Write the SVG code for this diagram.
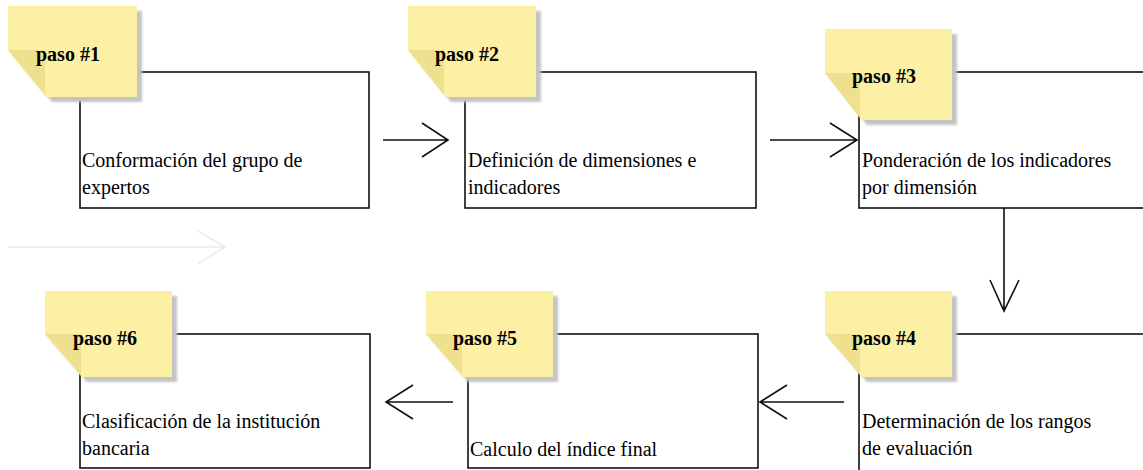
<svg xmlns="http://www.w3.org/2000/svg" width="1143" height="470" viewBox="0 0 1143 470">
<style>
.box{fill:#fff;stroke:#111;stroke-width:1.6}
.note{fill:#fcf0a4}
.fold{fill:#eee08e}
.shadow{fill:#c4c4c4;filter:url(#blur)}
.lbl{font-family:'Liberation Serif','Times New Roman',Tinos,'DejaVu Serif',serif;font-weight:bold;font-size:20px;fill:#000}
.txt{font-family:'Liberation Serif','Times New Roman',Tinos,'DejaVu Serif',serif;font-size:20px;fill:#000}
.con{fill:none;stroke:#111;stroke-width:1.6}
.faint{fill:none;stroke:#ececec;stroke-width:1.6}
</style>
<defs>
<filter id="blur" x="-10%" y="-10%" width="130%" height="130%"><feGaussianBlur stdDeviation="1.2"/></filter>
</defs>
<rect width="1143" height="470" fill="#fff"/>
<g id="connectors">
<path class="faint" d="M8 247H225M198 231L225 247L198 264"/>
<path class="con" d="M383 140H448M422 123L448 140L422 157"/>
<path class="con" d="M770 140H857M830 123L857 140L830 157"/>
<path class="con" d="M1004 208V311M990 280L1004 311L1019 280"/>
<path class="con" d="M844 402H760M787 385L760 402L787 419"/>
<path class="con" d="M453 402H386M413 385L386 402L413 419"/>
</g>
<g id="node1">
<rect class="box" x="80" y="72" width="289" height="136"/>
<path class="shadow" d="M11 53V9H140V100H50Z" transform="translate(2,2)"/>
<path class="note" d="M8 50V6H137V97H46Z"/>
<path class="fold" d="M8 50H45V95Z"/>
<text class="lbl" x="36" y="61">paso #1</text>
<text class="txt" x="82" y="167">Conformación del grupo de</text>
<text class="txt" x="82" y="194">expertos</text>
</g>
<g id="node2">
<rect class="box" x="465" y="72" width="291" height="136"/>
<path class="shadow" d="M411 53V9H539V100H449Z" transform="translate(2,2)"/>
<path class="note" d="M408 50V6H536V97H446Z"/>
<path class="fold" d="M408 50H444V95Z"/>
<text class="lbl" x="435" y="61">paso #2</text>
<text class="txt" x="468" y="167">Definición de dimensiones e</text>
<text class="txt" x="468" y="194">indicadores</text>
</g>
<g id="node3">
<rect class="box" x="859" y="72" width="300" height="136"/>
<path class="shadow" d="M828 76V32H955V123H865Z" transform="translate(2,2)"/>
<path class="note" d="M825 73V29H952V120H862Z"/>
<path class="fold" d="M825 73H860V118Z"/>
<text class="lbl" x="852" y="83">paso #3</text>
<text class="txt" x="862" y="167">Ponderación de los indicadores</text>
<text class="txt" x="862" y="194">por dimensión</text>
</g>
<g id="node4">
<rect class="box" x="859" y="334" width="300" height="145"/>
<path class="shadow" d="M828 337V294H955V380H865Z" transform="translate(2,2)"/>
<path class="note" d="M825 334V291H952V377H862Z"/>
<path class="fold" d="M825 334H860V375Z"/>
<text class="lbl" x="852" y="345">paso #4</text>
<text class="txt" x="862" y="428">Determinación de los rangos</text>
<text class="txt" x="862" y="455">de evaluación</text>
</g>
<g id="node5">
<rect class="box" x="468" y="334" width="290" height="134"/>
<path class="shadow" d="M429 337V294H556V380H466Z" transform="translate(2,2)"/>
<path class="note" d="M426 334V291H553V377H463Z"/>
<path class="fold" d="M426 334H462V375Z"/>
<text class="lbl" x="453" y="345">paso #5</text>
<text class="txt" x="470" y="456">Calculo del índice final</text>
</g>
<g id="node6">
<rect class="box" x="80" y="334" width="290" height="134"/>
<path class="shadow" d="M48 337V294H175V380H85Z" transform="translate(2,2)"/>
<path class="note" d="M45 334V291H172V377H82Z"/>
<path class="fold" d="M45 334H81V375Z"/>
<text class="lbl" x="73" y="345">paso #6</text>
<text class="txt" x="82" y="428">Clasificación de la institución</text>
<text class="txt" x="82" y="455">bancaria</text>
</g>
</svg>
